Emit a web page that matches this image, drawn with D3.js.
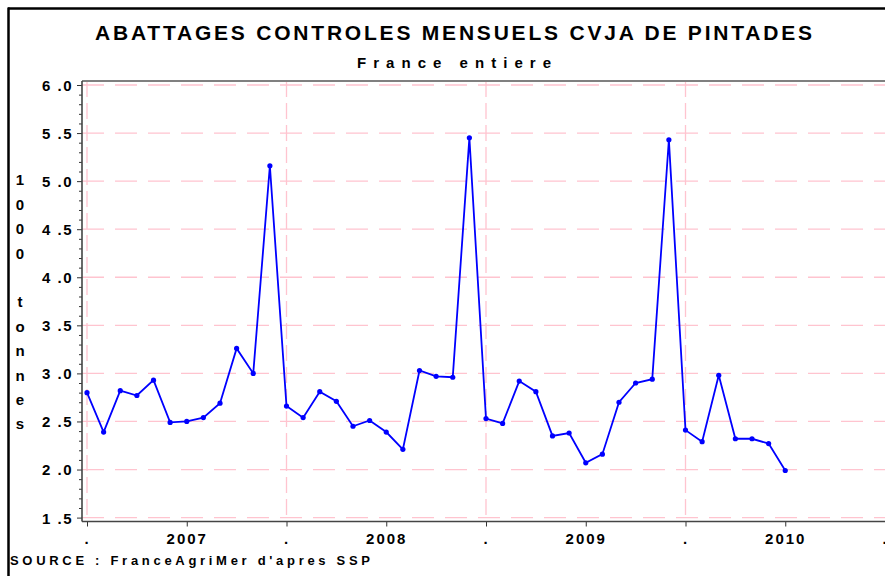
<!DOCTYPE html>
<html>
<head>
<meta charset="utf-8">
<script src="https://cdn.jsdelivr.net/npm/d3@7"></script>
<style>
  html, body { margin: 0; padding: 0; background: #fff; }
  text { font-family: "Liberation Sans", Arial, sans-serif; font-weight: bold; fill: #000; }
</style>
</head>
<body>
<svg id="chart" width="885" height="576"></svg>
<script>
// Monthly values, Jan 2007 .. Jul 2010 (1000 tonnes)
const months = d3.range(43);
const values = [
  2.80, 2.39, 2.82, 2.77, 2.93, 2.49, 2.50, 2.54, 2.69, 3.26, 3.00, 5.16,
  2.66, 2.54, 2.81, 2.71, 2.45, 2.51, 2.39, 2.21, 3.03, 2.97, 2.96, 5.45,
  2.53, 2.48, 2.92, 2.81, 2.35, 2.38, 2.07, 2.16, 2.70, 2.90, 2.94, 5.43,
  2.41, 2.29, 2.98, 2.32, 2.32, 2.27, 1.99
];
const xTickValues = [0, 6, 12, 18, 24, 30, 36, 42, 48];
const xTickLabels = [".", "2007", ".", "2008", ".", "2009", ".", "2010", "."];
const refLines = [0, 12, 24, 36];
const yTicks = [1.5, 2.0, 2.5, 3.0, 3.5, 4.0, 4.5, 5.0, 5.5, 6.0];
const yLabelChars = ["1", "0", "0", "0", "", "t", "o", "n", "n", "e", "s"];
const title = "ABATTAGES CONTROLES MENSUELS CVJA DE PINTADES";
const subtitle = "France entiere";
const source = "SOURCE :  FranceAgriMer d'apres SSP";

const svg = d3.select("#chart");

const x = d3.scaleLinear().domain([0, 48]).range([87, 885]);
const y = d3.scaleLinear().domain([1.5, 6.0]).range([517.6, 85]);
const plotLeft = 82, plotTop = 81, plotBottom = 521.5, plotRight = 900;

// outer frame
svg.append("line").attr("x1", 8).attr("x2", 885).attr("y1", 8.5).attr("y2", 8.5)
  .attr("stroke", "#000").attr("stroke-width", 2.5);
svg.append("line").attr("x1", 8.5).attr("x2", 8.5).attr("y1", 7.5).attr("y2", 576)
  .attr("stroke", "#000").attr("stroke-width", 2.5);

// titles
svg.append("text").attr("x", 95).attr("y", 40).attr("font-size", 21)
  .attr("textLength", 717).attr("lengthAdjust", "spacing").text(title);
svg.append("text").attr("x", 357).attr("y", 68).attr("font-size", 15)
  .attr("textLength", 194).attr("lengthAdjust", "spacing").text(subtitle);

// grid
const grid = svg.append("g");
grid.selectAll("line.h").data(yTicks).join("line").attr("class", "h")
  .attr("x1", plotLeft).attr("x2", plotRight)
  .attr("y1", d => y(d)).attr("y2", d => y(d))
  .attr("stroke", "#ffc4cf").attr("stroke-width", 1.3).attr("stroke-dasharray", "22,11");
grid.selectAll("line.v").data(refLines).join("line").attr("class", "v")
  .attr("x1", d => x(d)).attr("x2", d => x(d))
  .attr("y1", plotTop).attr("y2", plotBottom)
  .attr("stroke", "#ffc4cf").attr("stroke-width", 1.3).attr("stroke-dasharray", "16,6");

// frame top
svg.append("line").attr("x1", plotLeft).attr("x2", 885).attr("y1", plotTop).attr("y2", plotTop)
  .attr("stroke", "#808080").attr("stroke-width", 2);

// y axis
const yMinor = d3.range(15, 61).map(d => d / 10).filter(d => Math.round(d * 10) % 5 !== 0);
const yAxis = svg.append("g").attr("transform", `translate(${plotLeft},0)`);
yAxis.call(d3.axisLeft(y).tickValues(yMinor).tickSize(3).tickFormat(""))
  .call(g => g.select(".domain").remove());
yAxis.selectAll(".tick line").attr("stroke", "#333");
const yMajor = svg.append("g").attr("transform", `translate(${plotLeft},0)`);
yMajor.call(d3.axisLeft(y).tickValues(yTicks).tickSize(5).tickPadding(4)
    .tickFormat(d => d3.format(".1f")(d).replace(".", " .")))
  .call(g => g.select(".domain").remove());
yMajor.selectAll(".tick line").attr("stroke", "#333");
yMajor.selectAll(".tick text").attr("font-size", 15).attr("font-family", "Liberation Sans, Arial, sans-serif")
  .attr("font-weight", "bold").attr("fill", "#000").style("letter-spacing", "1.5px").attr("dy", "0.36em");
svg.append("line").attr("x1", plotLeft).attr("x2", plotLeft).attr("y1", plotTop).attr("y2", plotBottom)
  .attr("stroke", "#444").attr("stroke-width", 1.6);

// x axis
const xAxis = svg.append("g").attr("transform", `translate(0,${plotBottom})`);
xAxis.call(d3.axisBottom(x).tickValues(xTickValues).tickSize(5).tickPadding(7)
    .tickFormat((d, i) => xTickLabels[i]))
  .call(g => g.select(".domain").remove());
xAxis.selectAll(".tick line").attr("stroke", "#333");
xAxis.selectAll(".tick text").attr("font-size", 15).attr("font-family", "Liberation Sans, Arial, sans-serif")
  .attr("font-weight", "bold").attr("fill", "#000").style("letter-spacing", "2px");
svg.append("line").attr("x1", plotLeft).attr("x2", 885).attr("y1", plotBottom).attr("y2", plotBottom)
  .attr("stroke", "#444").attr("stroke-width", 1.6);

// y label (stacked characters)
svg.append("g").selectAll("text").data(yLabelChars).join("text")
  .attr("x", 20).attr("y", (d, i) => 180 + i * 24.4).attr("dy", "0.36em")
  .attr("text-anchor", "middle").attr("font-size", 15).text(d => d);

// series
const line = d3.line().x((d, i) => x(months[i])).y(d => y(d));
svg.append("path").datum(values).attr("d", line)
  .attr("fill", "none").attr("stroke", "#0000ff").attr("stroke-width", 1.8);
svg.append("g").selectAll("circle").data(values).join("circle")
  .attr("cx", (d, i) => x(months[i])).attr("cy", d => y(d)).attr("r", 2.6).attr("fill", "#0000ff");

// source
svg.append("text").attr("x", 10).attr("y", 565).attr("font-size", 13)
  .attr("textLength", 360).attr("lengthAdjust", "spacing").text(source);
</script>
</body>
</html>
